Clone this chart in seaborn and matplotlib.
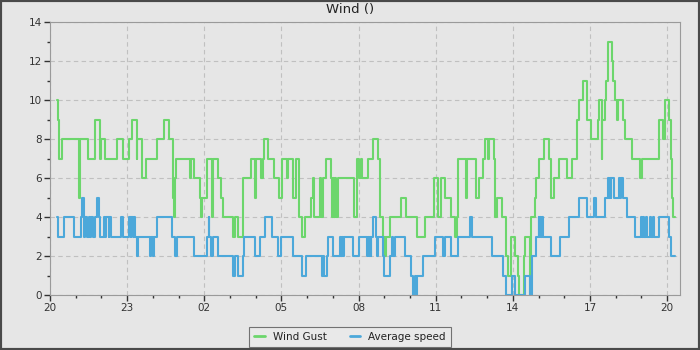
import matplotlib
matplotlib.use("Agg")
import matplotlib.pyplot as plt
from matplotlib.patches import Rectangle
from matplotlib.ticker import MultipleLocator, FixedLocator
import pandas as pd
import seaborn as sns

# One day of wind readings starting at 20:00.
# Times are minutes after 20:00; each value holds until the next change.
gust_minutes = [17, 19, 20, 28, 67, 69, 71, 89, 106, 117, 118, 129, 156, 170, 185, 191,
                202, 204, 215, 224, 249, 266, 278, 286, 288, 290, 292, 294, 327, 330,
                336, 350, 352, 355, 366, 378, 381, 392, 398, 404, 428, 431, 439, 450,
                468, 478, 481, 492, 496, 500, 509, 523, 535, 542, 552, 556, 567, 574,
                582, 588, 596, 609, 613, 617, 630, 633, 638, 644, 655, 657, 660, 663,
                665, 668, 671, 710, 716, 721, 725, 728, 741, 753, 766, 769, 777, 781,
                784, 794, 819, 831, 856, 875, 895, 906, 912, 921, 935, 945, 949, 951,
                971, 974, 994, 1001, 1011, 1015, 1021, 1025, 1036, 1038, 1044, 1055,
                1064, 1069, 1075, 1086, 1091, 1095, 1105, 1108, 1119, 1122, 1131, 1133,
                1141, 1153, 1164, 1169, 1176, 1187, 1206, 1217, 1229, 1234, 1243, 1253,
                1263, 1278, 1280, 1288, 1289, 1294, 1297, 1302, 1312, 1314, 1319, 1322,
                1325, 1336, 1342, 1358, 1376, 1381, 1421, 1431, 1434, 1445, 1448, 1452,
                1454, 1459]
gust_values = [10, 9, 7, 8, 5, 6, 8, 7, 9, 7, 8, 7, 8, 7, 8, 9,
               7, 8, 6, 7, 8, 9, 8, 7, 5, 4, 6, 7, 6, 7,
               6, 5, 4, 5, 7, 4, 7, 6, 5, 4, 3, 4, 3, 6,
               7, 5, 7, 6, 7, 8, 7, 6, 5, 7, 6, 7, 5, 7,
               4, 3, 4, 5, 6, 4, 6, 4, 6, 7, 6, 4, 6, 4,
               6, 4, 6, 4, 7, 6, 7, 6, 7, 8, 7, 4, 3, 2,
               3, 4, 5, 4, 3, 4, 6, 4, 6, 5, 4, 3, 4, 7,
               5, 7, 5, 6, 7, 8, 7, 8, 7, 4, 5, 4,
               2, 1, 3, 2, 1, 0, 2, 3, 0, 4, 5, 6,
               7, 8, 7, 5, 6, 7, 6, 7, 9, 10, 11, 9,
               8, 9, 10, 7, 9, 10, 11, 13, 12, 11, 10, 9,
               10, 9, 8, 7, 6, 7, 9, 8, 10, 9, 7, 5,
               4, 4]

avg_minutes = [17, 19, 33, 56, 72, 75, 79, 82, 86, 90, 93, 96, 100, 106, 109, 114,
               117, 126, 129, 131, 137, 138, 142, 165, 170, 185, 188, 190, 193, 196,
               199, 202, 205, 233, 236, 240, 243, 250, 285, 291, 297, 336, 367, 370,
               372, 376, 381, 392, 426, 431, 439, 450, 453, 478, 490, 501, 517, 531,
               540, 566, 588, 598, 635, 638, 640, 646, 649, 660, 677, 679, 682, 684,
               686, 708, 722, 739, 741, 744, 746, 748, 750, 753, 761, 764, 766, 777,
               780, 794, 797, 801, 805, 829, 843, 848, 852, 854, 857, 871, 899, 918,
               921, 935, 951, 979, 985, 1032, 1057, 1063, 1077, 1085, 1108, 1119,
               1125, 1133, 1141, 1142, 1144, 1146, 1148, 1150, 1170, 1190, 1212, 1235,
               1253, 1270, 1274, 1295, 1302, 1304, 1306, 1308, 1310, 1316, 1328, 1331,
               1333, 1337, 1346, 1365, 1379, 1381, 1384, 1386, 1390, 1392, 1400, 1403,
               1408, 1410, 1421, 1445, 1449, 1459]
avg_values = [4, 3, 4, 3, 4, 5, 3, 4, 3, 4, 3, 4, 3, 4, 5, 4,
              3, 4, 3, 4, 3, 4, 3, 4, 3, 4, 3, 4, 3, 4,
              3, 2, 3, 2, 3, 2, 3, 4, 3, 2, 3, 2, 3, 4,
              3, 2, 3, 2, 1, 2, 1, 2, 3, 2, 3, 4, 3, 2,
              3, 2, 1, 2, 1, 2, 1, 2, 3, 2, 3, 2, 3, 2,
              3, 2, 3, 2, 3, 2, 3, 2, 3, 4, 3, 2, 3, 2,
              1, 2, 3, 2, 3, 2, 1, 0, 1, 0, 1, 2, 3, 2,
              3, 2, 3, 4, 3, 2, 1, 0, 1, 0, 1, 0,
              2, 3, 4, 3, 4, 3, 4, 3, 2, 3, 4, 5,
              4, 5, 4, 5, 6, 5, 6, 5, 6, 5, 6, 5,
              6, 5, 4, 3, 4, 3, 4, 3, 4, 3, 4, 3,
              4, 3, 4, 3, 2, 2]

hour_labels = ["20", "23", "02", "05", "08", "11", "14", "17", "20"]
series_names = ["Wind Gust", "Average speed"]
series_colors = ["#6cd66c", "#4ca8da"]

frames = [
    pd.DataFrame({"minute": gust_minutes, "speed": gust_values, "series": series_names[0]}),
    pd.DataFrame({"minute": avg_minutes, "speed": avg_values, "series": series_names[1]}),
]
df = pd.concat(frames, ignore_index=True)

bg = "#e6e6e6"
sns.set_style("ticks", rc={
    "axes.facecolor": bg,
    "figure.facecolor": bg,
    "axes.edgecolor": "#9a9a9a",
    "text.color": "#222222",
    "xtick.color": "#333333",
    "ytick.color": "#333333",
})
plt.rcParams["font.family"] = ["DejaVu Sans"]

fig = plt.figure(figsize=(7, 3.5), dpi=100)
ax = fig.add_axes([50 / 700, 1 - 295 / 350, 630 / 700, 273 / 350])

sns.lineplot(data=df, x="minute", y="speed", hue="series", hue_order=series_names,
             palette=dict(zip(series_names, series_colors)), drawstyle="steps-post",
             estimator=None, errorbar=None, linewidth=1.5, ax=ax)

handles, labels = ax.get_legend_handles_labels()
ax.get_legend().remove()

ax.set_xlim(0, 1470)
ax.set_ylim(0, 14)
ax.xaxis.set_major_locator(FixedLocator([i * 180 for i in range(len(hour_labels))]))
ax.set_xticklabels(hour_labels)
ax.xaxis.set_minor_locator(MultipleLocator(60))
ax.yaxis.set_major_locator(MultipleLocator(2))
ax.yaxis.set_minor_locator(MultipleLocator(1))
ax.tick_params(which="major", length=4, width=1, labelsize=7.5, pad=2)
ax.tick_params(which="minor", length=2.5, width=1)
ax.set_xlabel("")
ax.set_ylabel("")
for side in ["top", "right", "left", "bottom"]:
    ax.spines[side].set_visible(True)
    ax.spines[side].set_color("#9a9a9a")
ax.grid(True, which="major", linestyle=(0, (4, 3)), color="#c0c0c0", linewidth=0.8)
ax.set_axisbelow(True)
fig.text(0.5, 1 - 10 / 350, "Wind ()", fontsize=9.5, ha="center", va="center")

for h in handles:
    h.set_linewidth(2)
leg = fig.legend(handles, labels, loc="center", bbox_to_anchor=(0.5, 1 - 337 / 350),
                 ncol=2, frameon=True, fancybox=False, fontsize=7.5, handlelength=1.0,
                 handletextpad=0.8, columnspacing=2.2, borderpad=0.5)
leg.get_frame().set_edgecolor("#555555")
leg.get_frame().set_facecolor("#ebebeb")
leg.get_frame().set_linewidth(0.8)

fig.patches.append(Rectangle((0, 0), 1, 1, transform=fig.transFigure, fill=False,
                             edgecolor="#4a4a4a", linewidth=3))

fig.savefig("out.png", dpi=100, facecolor=bg)
